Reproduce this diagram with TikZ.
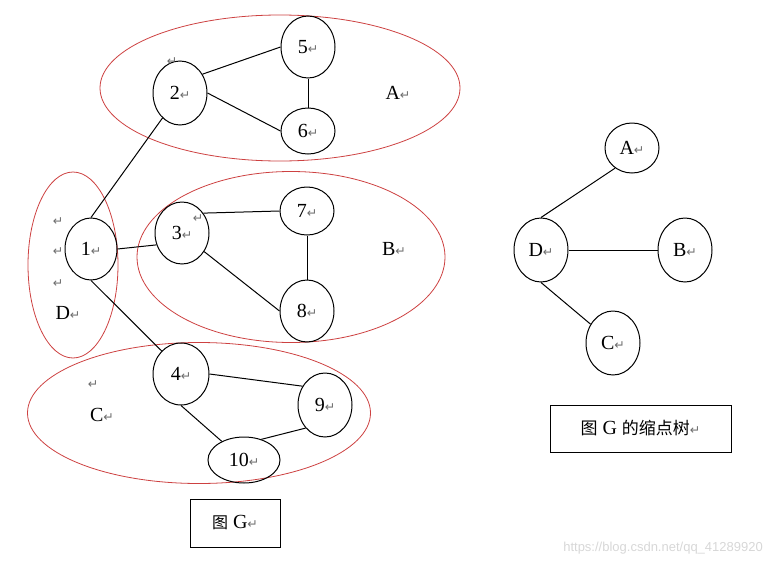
\documentclass[tikz,border=0pt]{standalone}
\usepackage{fontspec}
\setmainfont{Liberation Serif}
\newfontfamily\cjk{Noto Sans CJK SC}
\newfontfamily\symf{DejaVu Sans}
\newfontfamily\wmf{Liberation Sans}
\usetikzlibrary{shapes.geometric}
\definecolor{grpred}{RGB}{205,65,65}
\definecolor{retgray}{RGB}{110,110,110}
\definecolor{wmgray}{RGB}{215,215,215}
\newcommand{\rt}{{\symf\fontsize{12.5}{12.5}\selectfont\textcolor{retgray}{↵}}}
\begin{document}
\begin{tikzpicture}[x=1pt,y=-1pt,
  vtx/.style={draw,ellipse,line width=1pt,inner sep=0pt,minimum width=54pt,minimum height=62pt,font=\fontsize{20}{20}\selectfont},
  grp/.style={draw=grpred,ellipse,line width=0.8pt,inner sep=0pt},
  edge/.style={line width=1pt},
  lbl/.style={inner sep=0pt,font=\fontsize{20}{20}\selectfont},
  retm/.style={inner sep=0pt},
  capbox/.style={draw,line width=1pt,inner sep=0pt,font=\fontsize{20}{20}\selectfont},
  wm/.style={inner sep=0pt,text=wmgray,font=\wmf\fontsize{13}{13}\selectfont}]
\useasboundingbox (0,0) rectangle (771,565);

% group ellipses
\node[grp,minimum width=360pt,minimum height=146pt] (gA) at (280,88) {};
\node[grp,minimum width=308pt,minimum height=171pt] (gB) at (291,257) {};
\node[grp,minimum width=90pt,minimum height=186pt] (gD) at (73,265) {};
\node[grp,minimum width=343pt,minimum height=141pt] (gC) at (199,413) {};

% vertices of G
\node[vtx,minimum height=64pt] (n2) at (180,93) {2\rt};
\node[vtx] (n5) at (308,47) {5\rt};
\node[vtx,minimum height=46pt] (n6) at (308,131) {6\rt};
\node[vtx,minimum width=52pt] (n1) at (91,249) {1\rt};
\node[vtx] (n3) at (182,233) {3\rt};
\node[vtx,minimum height=48pt] (n7) at (307,211) {7\rt};
\node[vtx] (n8) at (307,311) {8\rt};
\node[vtx,minimum width=56pt] (n4) at (181,374) {4\rt};
\node[vtx,minimum height=64pt] (n9) at (325,405) {9\rt};
\node[vtx,minimum width=72pt,minimum height=46pt] (n10) at (244,460) {10\rt};

% edges of G
\draw[edge] (n2.40) -- (n5.west);
\draw[edge] (n2.east) -- (n6.west);
\draw[edge] (n5.south) -- (n6.north);
\draw[edge] (n1.north) -- (n2.235);
\draw[edge] (n1.east) -- (n3.205);
\draw[edge] (n1.south) -- (n4.130);
\draw[edge] (n3.43) -- (n7.west);
\draw[edge] (n3.-40) -- (n8.west);
\draw[edge] (n7.south) -- (n8.north);
\draw[edge] (n4.east) -- (n9.140);
\draw[edge] (n4.south) -- (n10.140);
\draw[edge] (n9.-130) -- (n10.50);

% group labels and stray paragraph marks
\node[lbl] (lA) at (398,93) {A\rt};
\node[lbl] (lB) at (394,249) {B\rt};
\node[lbl] (lD) at (68,313) {D\rt};
\node[lbl] (lC) at (102,415) {C\rt};
\node[retm] (r1) at (172,62) {\rt};
\node[retm] (r2) at (198,219) {\rt};
\node[retm] (r3) at (58,222) {\rt};
\node[retm] (r4) at (58,252) {\rt};
\node[retm] (r5) at (58,284) {\rt};
\node[retm] (r6) at (93,385) {\rt};

% caption of G
\node[capbox,minimum width=90pt,minimum height=48pt] (capG) at (235,523) {{\cjk\fontsize{16}{16}\selectfont 图} G\rt};

% condensed tree
\node[vtx,minimum height=50pt] (tA) at (632,148) {A\rt};
\node[vtx,minimum height=64pt] (tD) at (541,250) {D\rt};
\node[vtx,minimum height=64pt] (tB) at (685,250) {B\rt};
\node[vtx,minimum height=64pt] (tC) at (613,343) {C\rt};
\draw[edge] (tD.north) -- (tA.230);
\draw[edge] (tD.east) -- (tB.west);
\draw[edge] (tD.south) -- (tC.140);

\node[capbox,minimum width=181pt,minimum height=47pt] (capT) at (640.5,428.5) {{\cjk\fontsize{17}{17}\selectfont 图} G {\cjk\fontsize{17}{17}\selectfont 的缩点树}\rt};

% watermark
\node[wm,anchor=east] (wmk) at (763,548) {https://blog.csdn.net/qq\_41289920};
\end{tikzpicture}
\end{document}
